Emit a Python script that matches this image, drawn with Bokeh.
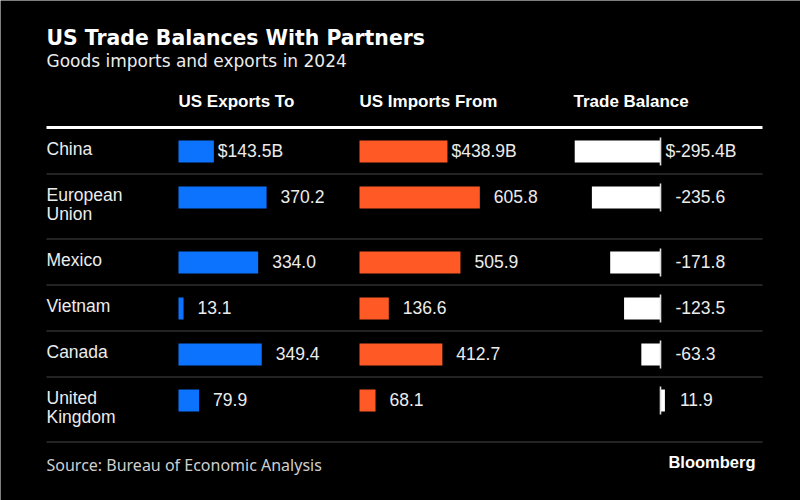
from bokeh.plotting import figure
from bokeh.models import Range1d
from bokeh.embed import file_html
from bokeh.resources import INLINE
from bokeh.core.properties import value

# ---------------- data ----------------
countries = ["China", "European Union", "Mexico", "Vietnam", "Canada", "United Kingdom"]
name_lines = [["China"], ["European", "Union"], ["Mexico"], ["Vietnam"], ["Canada"], ["United", "Kingdom"]]
exports = [143.5, 370.2, 334.0, 13.1, 349.4, 79.9]
imports = [438.9, 605.8, 505.9, 136.6, 412.7, 68.1]
balance = [-295.4, -235.6, -171.8, -123.5, -63.3, 11.9]
headers = ["US Exports To", "US Imports From", "Trade Balance"]
title = "US Trade Balances With Partners"
subtitle = "Goods imports and exports in 2024"
source = "Source: Bureau of Economic Analysis"
brand = "Bloomberg"

# ---------------- layout / style ----------------
W, H = 800, 500
BLUE = "#0c73ff"
ORANGE = "#ff5a26"
WHITE = "#ffffff"
TXT = "#ececec"
GRID = "#474747"
NUM_FONT = value("Liberation Sans")
TITLE_FONT = value("DejaVu Sans")
DY = -7  # baseline correction for rendered text

LEFT, RIGHT = 46, 762
EXP_X0, IMP_X0, BAL_X0 = 178, 359, 660
EXP_K, EXP_B = 0.2325, 2.0
IMP_K, IMP_B = 0.194, 2.8
BAL_K, BAL_B = 0.287, 1.0

p = figure(width=W, height=H, x_range=Range1d(0, W), y_range=Range1d(H, 0),
           output_backend="svg", toolbar_location=None, min_border=0,
           x_axis_type=None, y_axis_type=None,
           background_fill_color="black", border_fill_color="black",
           outline_line_color=None)
p.grid.visible = False

# rows
tops = []
t = 127
for lines in name_lines:
    tops.append(t)
    t += 46 if len(lines) == 1 else 65
bottom = t
bar_top = [r + 13 for r in tops]
bar_bot = [r + 35 for r in tops]

# separators
sep_y = [y + 0.5 for y in tops[1:]] + [bottom + 0.5]
p.segment(x0=[LEFT] * len(sep_y), x1=[RIGHT] * len(sep_y), y0=sep_y, y1=sep_y,
          line_color=GRID, line_width=1)
p.segment(x0=[LEFT], x1=[RIGHT], y0=[127], y1=[127], line_color=WHITE, line_width=3)

# bars
exp_r = [EXP_X0 + EXP_B + EXP_K * v for v in exports]
imp_r = [IMP_X0 + IMP_B + IMP_K * v for v in imports]
bal_l = [BAL_X0 + (BAL_B + BAL_K * v if v > 0 else -(BAL_B + BAL_K * -v)) for v in balance]

n = len(countries)
p.quad(left=[EXP_X0] * n, right=exp_r, top=bar_top, bottom=bar_bot, fill_color=BLUE, line_color=None)
p.quad(left=[IMP_X0] * n, right=imp_r, top=bar_top, bottom=bar_bot, fill_color=ORANGE, line_color=None)
p.quad(left=[min(BAL_X0, b) for b in bal_l], right=[max(BAL_X0, b) for b in bal_l],
       top=bar_top, bottom=bar_bot, fill_color=WHITE, line_color=None)
p.segment(x0=[BAL_X0] * n, x1=[BAL_X0] * n, y0=[y - 3 for y in bar_top], y1=[y + 3 for y in bar_bot],
          line_color="#dddddd", line_width=1.6)

# value labels
def fmt(v, i):
    return f"${v:.1f}B" if i == 0 else f"{v:.1f}"

DOLLAR = 10
exp_lx = [r + 4 + (DOLLAR if i else 0) for i, r in enumerate(exp_r)]
imp_lx = [r + 4 + (DOLLAR if i else 0) for i, r in enumerate(imp_r)]
bal_lx = [(max(BAL_X0, b) + 5) + (DOLLAR if i else 0) for i, b in enumerate(bal_l)]
lab_x = exp_lx + imp_lx + bal_lx
lab_y = [b + 17.2 + DY for b in bar_top] * 3
lab_t = [fmt(v, i) for i, v in enumerate(exports)] + [fmt(v, i) for i, v in enumerate(imports)] + \
        [fmt(v, i) for i, v in enumerate(balance)]
p.text(x=lab_x, y=lab_y, text=lab_t, text_font=NUM_FONT, text_font_size="17.5px",
       text_color=TXT, text_baseline="alphabetic", text_align="left")

# country names
nx, ny, nt = [], [], []
for lines, bt in zip(name_lines, bar_top):
    for j, ln in enumerate(lines):
        nx.append(LEFT)
        ny.append(bt + 15.5 + DY + 19 * j)
        nt.append(ln)
p.text(x=nx, y=ny, text=nt, text_font=NUM_FONT, text_font_size="17.5px",
       text_color=TXT, text_baseline="alphabetic", text_align="left")

# headers
p.text(x=[EXP_X0, IMP_X0, 573], y=[108 + DY] * 3, text=headers, text_font=NUM_FONT,
       text_font_size="17px", text_font_style="bold", text_color=WHITE,
       text_baseline="alphabetic", text_align="left")

# title, subtitle
p.text(x=[LEFT], y=[44 + DY], text=[title], text_font=TITLE_FONT, text_font_size="20.4px",
       text_font_style="bold", text_color=WHITE, text_baseline="alphabetic", text_align="left")
p.text(x=[LEFT], y=[67.5 + DY], text=[subtitle], text_font=TITLE_FONT, text_font_size="17px",
       text_color=TXT, text_baseline="alphabetic", text_align="left")

# footer
p.text(x=[LEFT], y=[471 + DY], text=[source], text_font=value("Noto Sans"), text_font_size="16px",
       text_color="#cfcfcf", text_baseline="alphabetic", text_align="left")
p.text(x=[755], y=[468 + DY], text=[brand], text_font=NUM_FONT, text_font_size="16.5px",
       text_font_style="bold", text_color=WHITE, text_baseline="alphabetic", text_align="right")

open("out.html", "w").write(file_html(p, INLINE))
